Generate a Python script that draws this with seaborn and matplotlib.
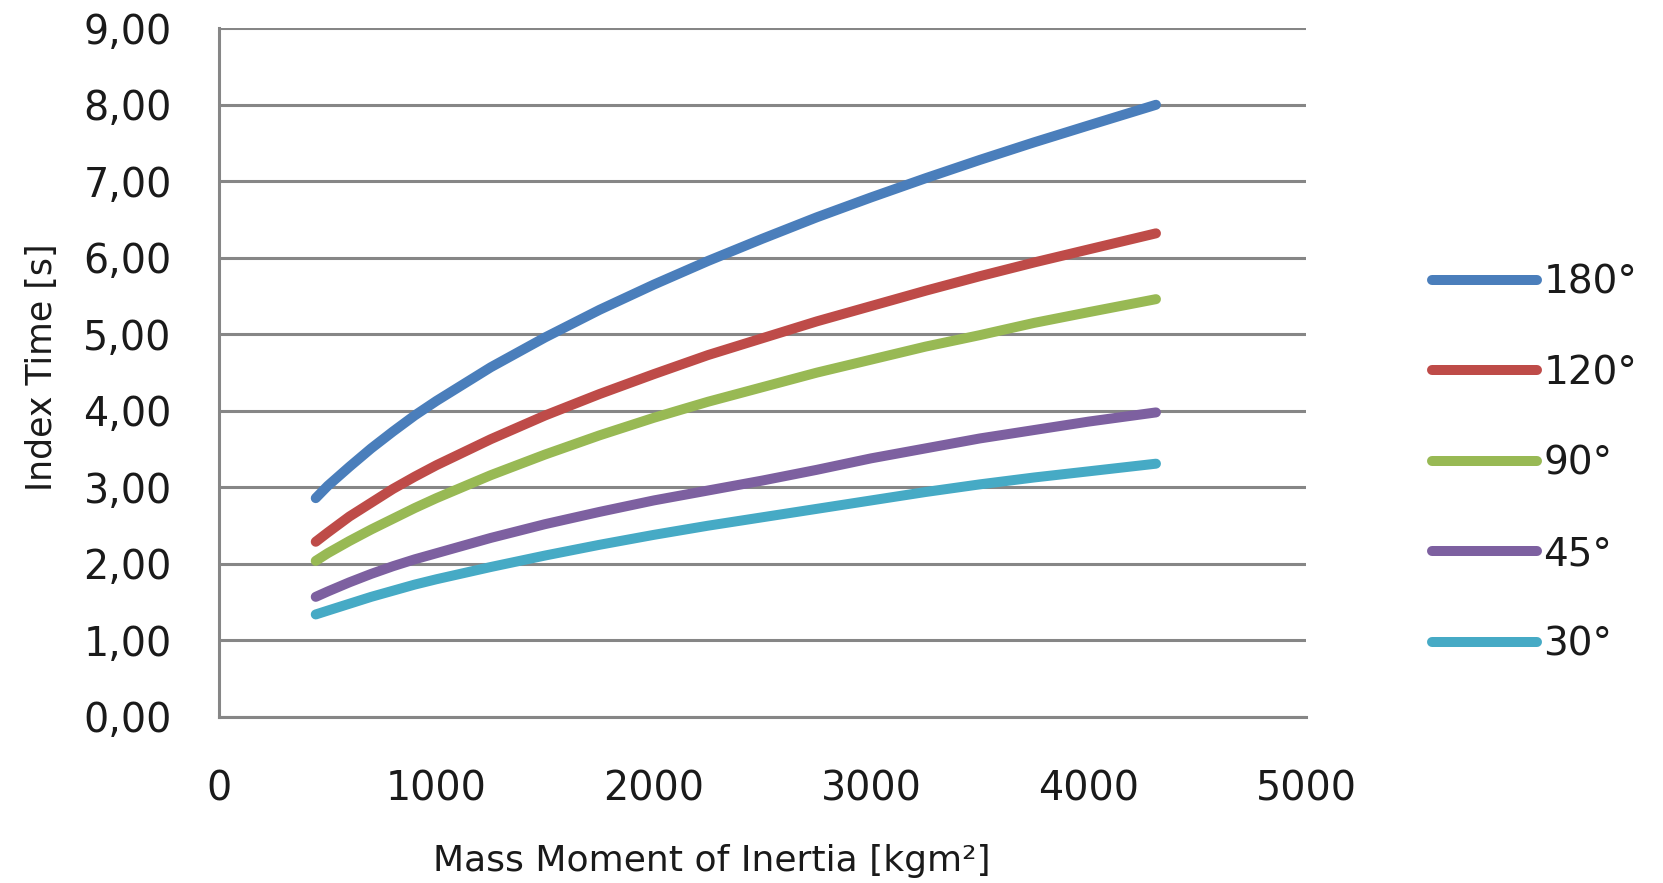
import numpy as np
import pandas as pd
import matplotlib
matplotlib.use("Agg")
import matplotlib.pyplot as plt
from matplotlib.ticker import FuncFormatter
import seaborn as sns

# values
inertia = [445, 500, 600, 700, 800, 900, 1000, 1250, 1500, 1750, 2000,
           2250, 2500, 2750, 3000, 3250, 3500, 3750, 4000, 4310]
t_180 = [2.86, 3.02, 3.27, 3.51, 3.73, 3.94, 4.13, 4.57, 4.96, 5.32, 5.65,
         5.96, 6.25, 6.53, 6.79, 7.04, 7.28, 7.51, 7.73, 8.00]
t_120 = [2.29, 2.41, 2.62, 2.80, 2.98, 3.14, 3.29, 3.63, 3.94, 4.22, 4.48,
         4.73, 4.95, 5.17, 5.37, 5.57, 5.76, 5.94, 6.11, 6.32]
t_90 = [2.04, 2.14, 2.30, 2.45, 2.59, 2.73, 2.86, 3.16, 3.43, 3.68, 3.91,
        4.12, 4.31, 4.50, 4.67, 4.84, 4.99, 5.15, 5.29, 5.46]
t_45 = [1.57, 1.64, 1.76, 1.87, 1.97, 2.06, 2.14, 2.34, 2.52, 2.68, 2.83,
        2.96, 3.09, 3.23, 3.38, 3.51, 3.64, 3.75, 3.86, 3.98]
t_30 = [1.34, 1.39, 1.48, 1.57, 1.65, 1.73, 1.80, 1.96, 2.11, 2.25, 2.38,
        2.50, 2.61, 2.72, 2.83, 2.94, 3.04, 3.13, 3.21, 3.31]
angles = ["180°", "120°", "90°", "45°", "30°"]
colors = ["#4A7EBB", "#BE4B48", "#98B954", "#7D60A0", "#46AAC5"]

df = pd.DataFrame({
    "J": inertia * 5,
    "T": t_180 + t_120 + t_90 + t_45 + t_30,
    "angle": np.repeat(angles, len(inertia)),
})

sns.set_style("white")
plt.rcParams["font.family"] = ["DejaVu Sans"]

fig = plt.figure(figsize=(16.63, 8.83), dpi=100)
ax = fig.add_axes([0.1317, 0.188, 0.6536, 0.780])

sns.lineplot(data=df, x="J", y="T", hue="angle", hue_order=angles,
             palette=colors, linewidth=7.2, solid_capstyle="round", ax=ax)

grid_c = "#868686"
txt_c = "#1a1a1a"
ax.set_xlim(0, 5000)
ax.set_ylim(0, 9)
ax.set_xticks(range(0, 5001, 1000))
ax.set_yticks(range(0, 10))
ax.yaxis.set_major_formatter(FuncFormatter(lambda v, p: f"{v:.2f}".replace(".", ",")))
ax.grid(axis="y", color=grid_c, linewidth=2.2)
ax.set_axisbelow(True)
for s in ["top", "right"]:
    ax.spines[s].set_visible(False)
for s in ["left", "bottom"]:
    ax.spines[s].set_color(grid_c)
    ax.spines[s].set_linewidth(2.2)
ax.tick_params(axis="both", direction="out", length=12, width=2.2, color=grid_c,
               labelsize=28.5, labelcolor=txt_c)
ax.tick_params(axis="x", pad=26)
ax.tick_params(axis="y", pad=22)

ax.set_xlabel("Mass Moment of Inertia [kgm²]", fontsize=26, color=txt_c, labelpad=25)
ax.xaxis.label.set_x(0.453)
ax.set_ylabel("Index Time [s]", fontsize=25, color=txt_c)
ax.yaxis.set_label_coords(-0.147, 0.508)

ax.get_legend().remove()
handles, labels = ax.get_legend_handles_labels()
leg = fig.legend(handles, labels, loc="center left", bbox_to_anchor=(0.852, 0.475),
                 frameon=False, fontsize=28, handlelength=2.7, handletextpad=0.15,
                 labelspacing=1.35, borderaxespad=0)
for text in leg.get_texts():
    text.set_color(txt_c)
for line in leg.get_lines():
    line.set_linewidth(7.2)
    line.set_solid_capstyle("round")

fig.savefig("out.png", dpi=100)
